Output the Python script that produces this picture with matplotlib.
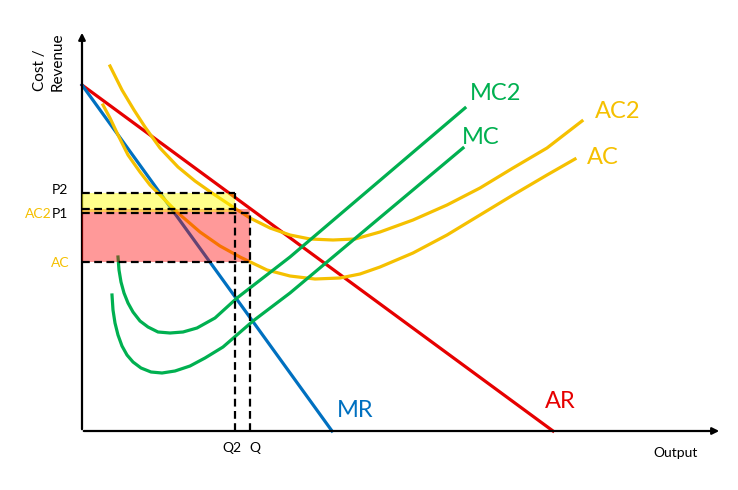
import matplotlib.pyplot as plt

# Cost/revenue diagram: curves (origin at the axes corner)
ar_x = [0, 471]
ar_y = [346, 0]
mr_x = [0, 250]
mr_y = [346, 0]

ac2_x = [28, 40, 52, 63, 78, 96, 113, 130, 151, 168, 188, 208, 228, 251, 273, 298, 331, 365, 398, 431, 465, 500]
ac2_y = [365, 341, 321, 304, 283, 264, 250, 238, 224, 213, 203, 196, 192, 191, 192, 199, 211, 226, 243, 263, 283, 310]

ac_x = [21, 28, 36, 46, 58, 68, 80, 96, 118, 138, 158, 185, 208, 233, 258, 278, 298, 331, 365, 398, 431, 465, 493]
ac_y = [326, 313, 296, 276, 259, 246, 234, 218, 199, 185, 174, 161, 155, 152, 153, 157, 164, 178, 196, 216, 236, 256, 272]

mc2_x = [36, 37, 39, 42, 46, 51, 58, 66, 76, 88, 101, 115, 133, 155, 208, 383]
mc2_y = [174, 161, 149, 138, 128, 119, 110, 104, 99, 98, 99, 103, 113, 133, 174, 323]

mc_x = [30, 31, 33, 36, 40, 45, 51, 59, 69, 80, 93, 108, 123, 141, 171, 208, 381]
mc_y = [136, 121, 108, 96, 85, 76, 69, 63, 59, 58, 60, 65, 73, 84, 110, 138, 283]

p2, ac2_lvl, p1, ac_lvl = 238, 222, 218, 169
q2, q = 153, 168

RED = '#E60000'
BLUE = '#0070C0'
GREEN = '#00B050'
GOLD = '#F5C000'

plt.rcParams['font.family'] = ['Lato', 'DejaVu Sans']

fig = plt.figure(figsize=(7.38, 4.9), dpi=100)
ax = fig.add_axes([0, 0, 1, 1])
ax.set_xlim(-82, 656)
ax.set_ylim(-59, 431)
ax.axis('off')

# axes with arrows
ax.annotate('', xy=(0, 401), xytext=(0, -1),
            arrowprops=dict(arrowstyle='-|>', lw=1.6, color='black', mutation_scale=10))
ax.annotate('', xy=(640, 0), xytext=(-1, 0),
            arrowprops=dict(arrowstyle='-|>', lw=1.6, color='black', mutation_scale=10))

lw = 2.3
ax.plot(ar_x, ar_y, color=RED, lw=lw)
ax.plot(mr_x, mr_y, color=BLUE, lw=lw)
ax.plot(ac2_x, ac2_y, color=GOLD, lw=lw)
ax.plot(ac_x, ac_y, color=GOLD, lw=lw)
ax.plot(mc2_x, mc2_y, color=GREEN, lw=lw)
ax.plot(mc_x, mc_y, color=GREEN, lw=lw)

# shaded areas drawn over the curves
ax.fill_between([0, q], ac_lvl, ac2_lvl, color='red', alpha=0.4, lw=0, zorder=3)
ax.fill_between([0, q2], ac2_lvl - 3, p2, color='yellow', alpha=0.45, lw=0, zorder=3)

dash = dict(color='black', lw=1.6, linestyle=(0, (3.5, 2)), zorder=4)
ax.plot([0, q2], [p2, p2], **dash)
ax.plot([0, q2], [ac2_lvl, ac2_lvl], **dash)
ax.plot([0, q], [p1, p1], **dash)
ax.plot([0, q], [ac_lvl, ac_lvl], **dash)
ax.plot([q2, q2], [0, p2], **dash)
ax.plot([q, q], [0, p1], **dash)

# axis labels
ax.text(-14, 241, 'P2', ha='right', va='center', fontsize=10)
ax.text(-14, 217, 'P1', ha='right', va='center', fontsize=10)
ax.text(-30, 217, 'AC2', ha='right', va='center', fontsize=10, color=GOLD)
ax.text(-12, 168, 'AC', ha='right', va='center', fontsize=10, color=GOLD)
ax.text(150, -17, 'Q2', ha='center', va='center', fontsize=10)
ax.text(173, -17, 'Q', ha='center', va='center', fontsize=10)
ax.text(594, -22, 'Output', ha='center', va='center', fontsize=10)
ax.text(-33, 369, 'Cost /\nRevenue', rotation=90, ha='center', va='center',
        multialignment='left', fontsize=11, linespacing=1.35)

# curve labels
ax.text(388, 338, 'MC2', color=GREEN, fontsize=17, va='center')
ax.text(380, 293, 'MC', color=GREEN, fontsize=17, va='center')
ax.text(513, 319, 'AC2', color=GOLD, fontsize=17, va='center')
ax.text(505, 274, 'AC', color=GOLD, fontsize=17, va='center')
ax.text(255, 21, 'MR', color=BLUE, fontsize=17, va='center')
ax.text(463, 29, 'AR', color=RED, fontsize=17, va='center')

fig.savefig('out.png', dpi=100)
